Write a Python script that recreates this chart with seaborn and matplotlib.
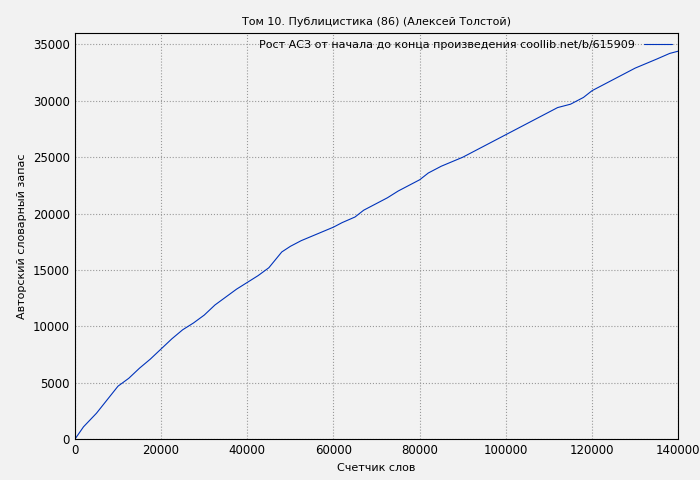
import numpy as np
import matplotlib.pyplot as plt
import pandas as pd
import seaborn as sns

# Рост АСЗ: счетчик слов и словарный запас
words = [0, 2000, 5000, 7500, 10000, 12500, 15000, 17500, 20000, 22500, 25000, 27500,
         30000, 32500, 35000, 37500, 40000, 42500, 45000, 48000, 50000, 52500, 55000,
         57500, 60000, 62000, 65000, 67000, 70000, 72500, 75000, 77500, 80000, 82000,
         85000, 87500, 90000, 92500, 95000, 97500, 100000, 102500, 105000, 107500,
         110000, 112000, 115000, 118000, 120000, 122500, 125000, 127500, 130000,
         132500, 135000, 138000, 140000]
vocab = [0, 1100, 2300, 3500, 4700, 5400, 6300, 7100, 8000, 8900, 9700, 10300,
         11000, 11900, 12600, 13300, 13900, 14500, 15200, 16600, 17100, 17600, 18000,
         18400, 18800, 19200, 19700, 20300, 20900, 21400, 22000, 22500, 23000, 23600,
         24200, 24600, 25000, 25500, 26000, 26500, 27000, 27500, 28000, 28500,
         29000, 29400, 29700, 30300, 30900, 31400, 31900, 32400, 32900,
         33300, 33700, 34200, 34400]

df = pd.DataFrame({"x": words, "y": vocab})

sns.set_style("whitegrid")
plt.rcParams['font.family'] = ['DejaVu Sans']
plt.rcParams['text.color'] = 'black'
plt.rcParams['axes.labelcolor'] = 'black'
plt.rcParams['xtick.color'] = 'black'
plt.rcParams['ytick.color'] = 'black'
fig, ax = plt.subplots(figsize=(7, 4.8), dpi=100)
fig.patch.set_facecolor("#f2f2f2")
ax.set_facecolor("#f2f2f2")

sns.lineplot(data=df, x="x", y="y", ax=ax, color="#0033bb", linewidth=0.8,
             label="Рост АСЗ от начала до конца произведения coollib.net/b/615909")

ax.grid(True, color="#999999", linestyle=":", linewidth=0.8)
for s in ax.spines.values():
    s.set_color("black")
    s.set_linewidth(0.8)
ax.set_xlim(0, 140000)
ax.set_ylim(0, 36000)
ax.set_xticks(np.arange(0, 140001, 20000))
ax.set_yticks(np.arange(0, 35001, 5000))
ax.tick_params(labelsize=8.5, direction="in", length=4, colors="black")
ax.set_title("Том 10. Публицистика (86) (Алексей Толстой)", fontsize=8, color="black")
ax.set_xlabel("Счетчик слов", fontsize=8)
ax.set_ylabel("Авторский словарный запас", fontsize=8)
ax.legend(loc="upper right", frameon=False, fontsize=8, markerfirst=False,
          handlelength=2.5, borderaxespad=0.2, labelcolor="black")

fig.subplots_adjust(left=0.107, right=0.969, top=0.931, bottom=0.085)
fig.savefig("out.png")
